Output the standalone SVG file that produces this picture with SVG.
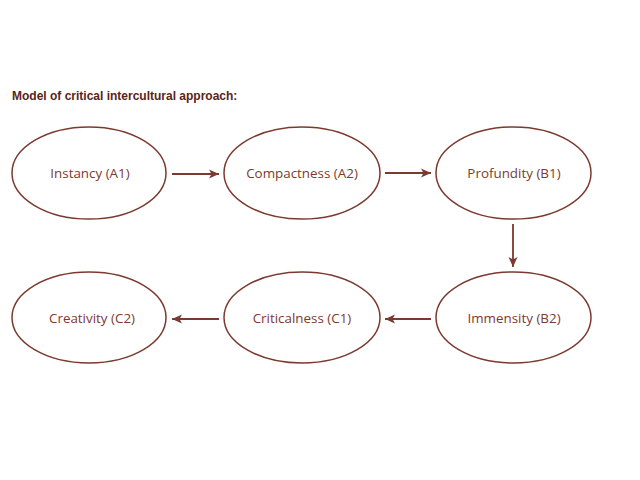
<svg xmlns="http://www.w3.org/2000/svg" width="640" height="480" viewBox="0 0 640 480">
<defs>
<style>
.node ellipse{fill:#ffffff;stroke:#7b3a30;stroke-width:1.5}
.node text{font-family:"Open Sans","Liberation Sans",sans-serif;font-size:13.4px;fill:#7b3a30;text-anchor:middle}
.edge{stroke:#7b3a30;stroke-width:1.8;fill:none;marker-end:url(#ah)}
.title{font-family:"Liberation Sans",Arial,sans-serif;font-size:12px;font-weight:bold;fill:#5a2418}
</style>
<marker id="ah" viewBox="0 0 10 10" refX="10" refY="5" markerWidth="10" markerHeight="10" markerUnits="userSpaceOnUse" orient="auto">
<path d="M0,0.5 L10,5 L0,9.5 L2.5,5 Z" fill="#7b3a30"/>
</marker>
</defs>
<rect width="640" height="480" fill="#ffffff"/>
<text class="title" x="12" y="100">Model of critical intercultural approach:</text>
<g id="A1" class="node"><ellipse cx="89" cy="173" rx="77" ry="46"/><text x="90" y="178">Instancy (A1)</text></g>
<g id="A2" class="node"><ellipse cx="302" cy="173" rx="78" ry="46"/><text x="302" y="178">Compactness (A2)</text></g>
<g id="B1" class="node"><ellipse cx="513.5" cy="173" rx="77.5" ry="46"/><text x="514" y="178">Profundity (B1)</text></g>
<g id="B2" class="node"><ellipse cx="513.5" cy="317.5" rx="77.5" ry="45.5"/><text x="514" y="323">Immensity (B2)</text></g>
<g id="C1" class="node"><ellipse cx="302" cy="317.5" rx="78" ry="45.5"/><text x="302" y="323">Criticalness (C1)</text></g>
<g id="C2" class="node"><ellipse cx="89" cy="317.5" rx="77" ry="45.5"/><text x="92" y="323">Creativity (C2)</text></g>
<g id="connectors">
<line class="edge" x1="172" y1="174" x2="219" y2="174"/>
<line class="edge" x1="385" y1="173" x2="431" y2="173"/>
<line class="edge" x1="513" y1="224" x2="513" y2="267"/>
<line class="edge" x1="431" y1="319" x2="385" y2="319"/>
<line class="edge" x1="219" y1="319" x2="172" y2="319"/>
</g>
</svg>
